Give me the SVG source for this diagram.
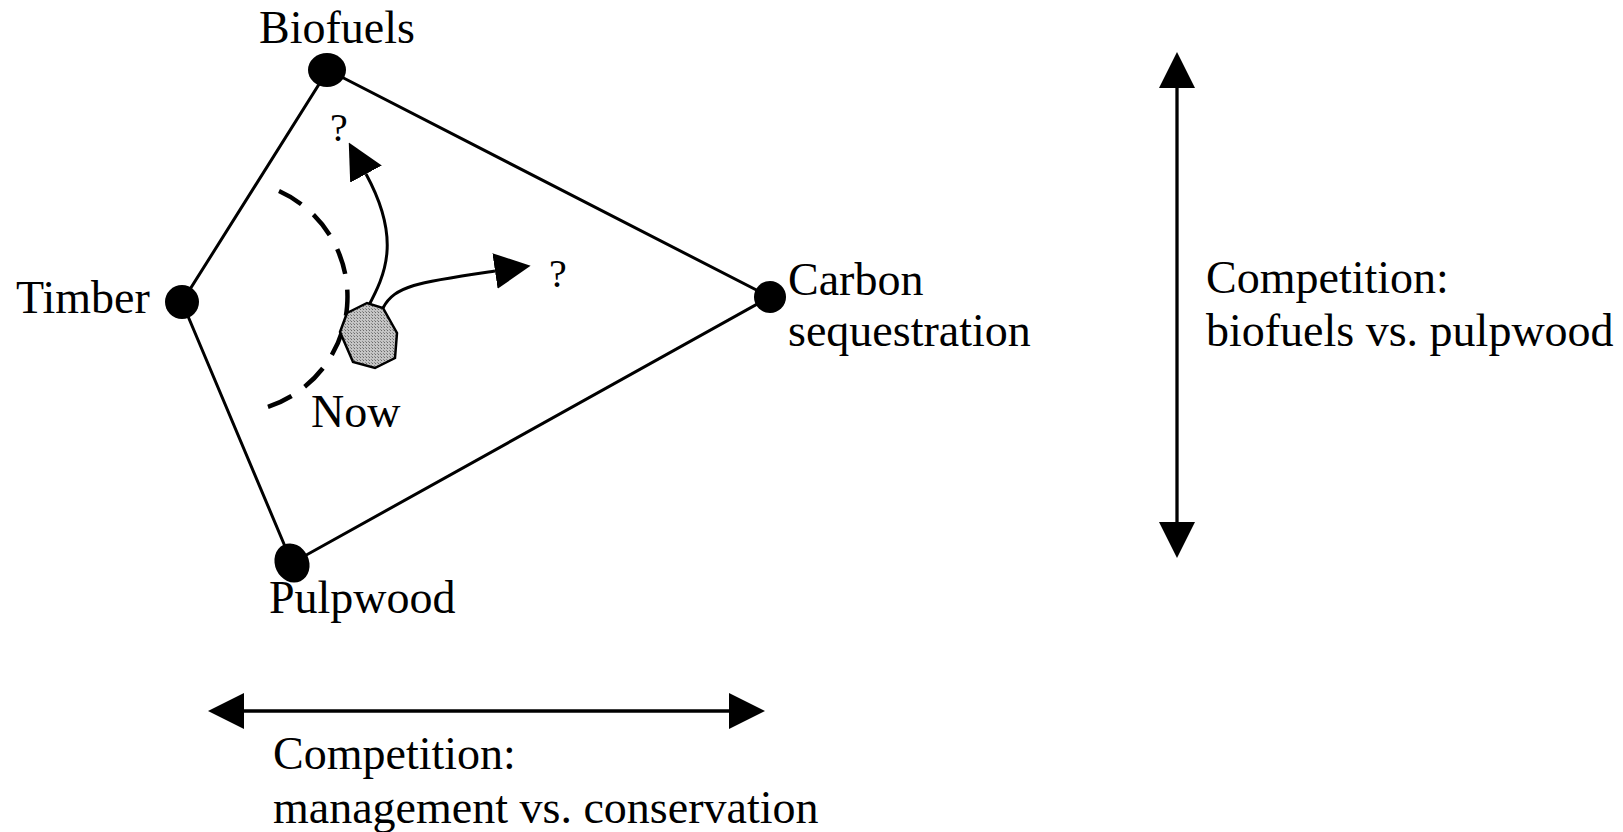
<svg xmlns="http://www.w3.org/2000/svg" width="1623" height="832" viewBox="0 0 1623 832">
<style>
text { font-family: "Liberation Serif", "Times New Roman", serif; font-size: 46px; fill: #000; }
.q { font-size: 40px; }
.edge { stroke: #000; stroke-width: 3; fill: none; }
.arr { stroke: #000; stroke-width: 3.3; fill: none; }
.dot { fill: #000; }
</style>
<defs>
<marker id="head" markerUnits="userSpaceOnUse" markerWidth="36" markerHeight="36" refX="0" refY="18" orient="auto-start-reverse" viewBox="0 0 36 36">
<path d="M0,0 L36,18 L0,36 z" fill="#000"/>
</marker>
<pattern id="hatch" width="3" height="3" patternUnits="userSpaceOnUse">
<rect width="3" height="3" fill="#c4c4c4"/>
<rect width="1" height="1" fill="#6a6a6a"/>
<rect x="2" y="2" width="1" height="1" fill="#8a8a8a"/>
</pattern>
</defs>
<rect width="1623" height="832" fill="#fff"/>
<g id="connectors">
<polygon class="edge" points="328,70 770,297 292,563 182,302"/>
<path id="dashed-arc" d="M279,191 A116 116 0 0 1 261,409" fill="none" stroke="#000" stroke-width="4.5" stroke-dasharray="26 16"/>
<path class="edge" d="M368,307 C385,275 402,240 366,174" marker-end="url(#head)"/>
<path class="edge" d="M383,308 C395,285 420,282 495,271" marker-end="url(#head)"/>
<line class="arr" x1="244" y1="711" x2="729" y2="711" marker-start="url(#head)" marker-end="url(#head)"/>
<line class="arr" x1="1177" y1="88" x2="1177" y2="522" marker-start="url(#head)" marker-end="url(#head)"/>
</g>
<g id="biofuels">
<ellipse class="dot" cx="327" cy="70" rx="19" ry="17"/>
<text x="259" y="43">Biofuels</text>
</g>
<g id="timber">
<circle class="dot" cx="182" cy="302" r="17"/>
<text x="16" y="313">Timber</text>
</g>
<g id="carbon">
<circle class="dot" cx="770" cy="297" r="16"/>
<text x="788" y="295">Carbon</text>
<text x="788" y="346">sequestration</text>
</g>
<g id="pulpwood">
<ellipse class="dot" cx="292" cy="563" rx="17" ry="20" transform="rotate(-25 292 563)"/>
<text x="269" y="613">Pulpwood</text>
</g>
<g id="now">
<polygon points="347,313 367,303 383,308 397,333 395,358 375,368 353,362 340,332" fill="url(#hatch)" stroke="#000" stroke-width="2.5"/>
<text x="311" y="427">Now</text>
</g>
<g id="q1"><text class="q" x="330" y="141">?</text></g>
<g id="q2"><text class="q" x="549" y="287">?</text></g>
<g id="label-vertical">
<text x="1206" y="293">Competition:</text>
<text x="1206" y="346">biofuels vs. pulpwood</text>
</g>
<g id="label-horizontal">
<text x="273" y="769">Competition:</text>
<text x="273" y="823">management vs. conservation</text>
</g>
</svg>
